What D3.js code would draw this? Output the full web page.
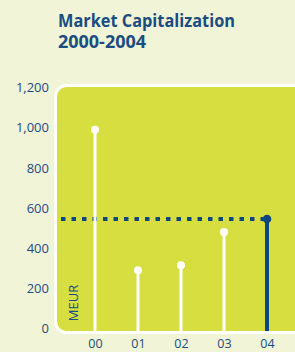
<!DOCTYPE html>
<html>
<head>
<meta charset="utf-8">
<script src="https://cdn.jsdelivr.net/npm/d3@7"></script>
<style>
  html, body { margin: 0; padding: 0; background: #f1f4d7; }
  svg { display: block; }
  text { font-family: "Open Sans", "Noto Sans", sans-serif; fill: #1b4c82; }
</style>
</head>
<body>
<svg id="chart" width="295" height="352"></svg>
<script>
// chart data
const titleLines = ["Market Capitalization", "2000-2004"];
const years = ["00", "01", "02", "03", "04"];
const values = [990, 290, 315, 480, 545];
const yTicks = [0, 200, 400, 600, 800, 1000, 1200];
const unitLabel = "MEUR";

const panelLeft = 55.5, panelTop = 85.5, panelBottom = 332.5;
const navy = "#0f4680";

const svg = d3.select("#chart");

const x = d3.scalePoint()
    .domain(years)
    .range([95, 267]);

const y = d3.scaleLinear()
    .domain([0, 1200])
    .range([328.5, 87.5]);

// title
svg.append("g").selectAll("text")
    .data(titleLines)
    .enter().append("text")
    .attr("x", 58)
    .attr("y", (d, i) => 27 + i * 21)
    .attr("font-size", 17)
    .attr("font-weight", 700)
    .attr("textLength", (d, i) => i === 0 ? 177 : 88)
    .attr("lengthAdjust", "spacingAndGlyphs")
    .text(d => d);

// panel
svg.append("rect")
    .attr("x", panelLeft)
    .attr("y", panelTop)
    .attr("width", 300)
    .attr("height", panelBottom - panelTop)
    .attr("rx", 11)
    .attr("fill", "#d6df3f")
    .attr("stroke", "#ffffff")
    .attr("stroke-width", 3);

// y axis labels
const yAxis = d3.axisLeft(y)
    .tickValues(yTicks)
    .tickFormat(d3.format(","))
    .tickSize(0)
    .tickPadding(0);

const ya = svg.append("g")
    .attr("transform", "translate(49,0)")
    .call(yAxis);
ya.select(".domain").remove();
ya.selectAll("text")
    .attr("font-size", 13)
    .attr("fill", "#1b4c82")
    .style("font-family", '"Open Sans", "Noto Sans", sans-serif');

// x axis labels
const xAxis = d3.axisBottom(x).tickSize(0).tickPadding(0);
const xa = svg.append("g")
    .attr("transform", "translate(0,339)")
    .call(xAxis);
xa.select(".domain").remove();
xa.selectAll("text")
    .attr("font-size", 12.5)
    .attr("dy", "0.72em")
    .attr("fill", "#1b4c82")
    .style("font-family", '"Open Sans", "Noto Sans", sans-serif');

// unit label
svg.append("text")
    .attr("transform", "translate(78,303) rotate(-90)")
    .attr("text-anchor", "middle")
    .attr("font-size", 13)
    .text(unitLabel);

const lastIdx = values.length - 1;

// reference line at latest value
svg.append("line")
    .attr("x1", 61)
    .attr("x2", x(years[lastIdx]))
    .attr("y1", y(values[lastIdx]))
    .attr("y2", y(values[lastIdx]))
    .attr("stroke", navy)
    .attr("stroke-width", 4)
    .attr("stroke-dasharray", "4.5,6");

// stems
svg.append("g").selectAll("line")
    .data(values)
    .enter().append("line")
    .attr("x1", (d, i) => x(years[i]))
    .attr("x2", (d, i) => x(years[i]))
    .attr("y1", d => y(d))
    .attr("y2", panelBottom - 1.5)
    .attr("stroke", (d, i) => i === lastIdx ? navy : "#ffffff")
    .attr("stroke-width", (d, i) => i === lastIdx ? 4 : 3);

// heads
svg.append("g").selectAll("circle")
    .data(values)
    .enter().append("circle")
    .attr("cx", (d, i) => x(years[i]))
    .attr("cy", d => y(d))
    .attr("r", (d, i) => i === lastIdx ? 4.3 : 4)
    .attr("fill", (d, i) => i === lastIdx ? navy : "#ffffff");
</script>
</body>
</html>
